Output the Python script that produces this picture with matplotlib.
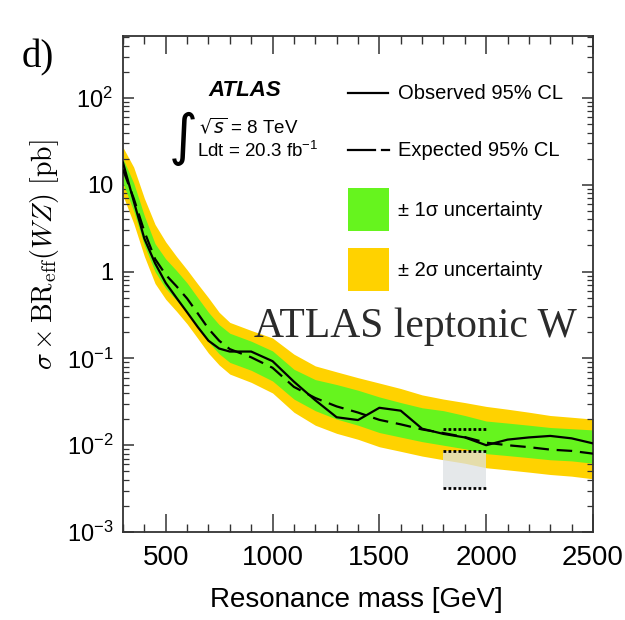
import numpy as np
import matplotlib.pyplot as plt
import matplotlib.ticker as mticker
from matplotlib.patches import Rectangle

# ------------------------------------------------------------------------------------------
# values (resonance mass in GeV, cross section limits in pb)
mass = [300, 350, 400, 450, 500, 550, 600, 650, 700, 750, 800, 900, 1000, 1100, 1200, 1300,
        1400, 1500, 1600, 1700, 1800, 1900, 2000, 2100, 2200, 2300, 2400, 2500]

observed = [18, 6.5, 2.4, 1.25, 0.74, 0.50, 0.34, 0.23, 0.16, 0.13, 0.12, 0.12, 0.093,
            0.054, 0.033, 0.021, 0.0195, 0.027, 0.025, 0.0155, 0.0135, 0.0123, 0.0100,
            0.0116, 0.0123, 0.0128, 0.0120, 0.0105]

expected = [15, 7.0, 2.9, 1.4, 0.92, 0.68, 0.49, 0.33, 0.22, 0.16, 0.128, 0.103, 0.078,
            0.047, 0.035, 0.028, 0.0238, 0.0196, 0.0174, 0.0152, 0.0138, 0.0124, 0.0107,
            0.0100, 0.0095, 0.0089, 0.0086, 0.0080]

exp_plus2 = [27, 16, 7.0, 3.5, 2.2, 1.5, 1.05, 0.72, 0.50, 0.34, 0.26, 0.21, 0.172, 0.112,
             0.082, 0.07, 0.06, 0.052, 0.045, 0.038, 0.034, 0.031, 0.028, 0.026, 0.024,
             0.022, 0.021, 0.020]

exp_plus1 = [20, 10.5, 4.4, 2.1, 1.4, 1.03, 0.74, 0.50, 0.34, 0.245, 0.195, 0.158, 0.122,
             0.075, 0.057, 0.05, 0.043, 0.036, 0.031, 0.027, 0.025, 0.022, 0.019, 0.018,
             0.017, 0.016, 0.0155, 0.015]

exp_minus1 = [10.5, 5.0, 2.0, 1.0, 0.64, 0.47, 0.34, 0.23, 0.155, 0.113, 0.090, 0.073,
              0.055, 0.034, 0.025, 0.020, 0.0170, 0.0140, 0.0124, 0.0110, 0.0100, 0.0091,
              0.0080, 0.0076, 0.0072, 0.0068, 0.0066, 0.0062]

exp_minus2 = [7.5, 3.6, 1.5, 0.73, 0.48, 0.35, 0.25, 0.17, 0.115, 0.084, 0.066, 0.053,
              0.040, 0.024, 0.017, 0.0137, 0.0117, 0.0096, 0.0085, 0.0075, 0.0068, 0.0062,
              0.0055, 0.0052, 0.0049, 0.0046, 0.0044, 0.0041]

# grey box between 1800 and 2000 GeV with its three dotted levels
box_mass = [1800, 2000]
box_top = 0.0152
box_mid = 0.0086
box_bot = 0.0032

x_ticks = [500, 1000, 1500, 2000, 2500]
y_ticks = [1e-3, 1e-2, 1e-1, 1, 10, 1e2]
y_tick_labels = [r'$\mathregular{10^{-3}}$', r'$\mathregular{10^{-2}}$', r'$\mathregular{10^{-1}}$',
                 '1', '10', r'$\mathregular{10^{2}}$']

# ------------------------------------------------------------------------------------------
plt.rcParams['font.family'] = ['Liberation Sans', 'DejaVu Sans']

col_yellow = '#ffd200'
col_green = '#66f41e'

fig = plt.figure(figsize=(6.25, 6.2), dpi=100)
ax = fig.add_axes([0.1968, 0.1419, 0.752, 0.800])

ax.fill_between(mass, exp_minus2, exp_plus2, color=col_yellow, lw=0, zorder=1)
ax.fill_between(mass, exp_minus1, exp_plus1, color=col_green, lw=0, zorder=2)

ax.fill_between(box_mass, [box_bot] * 2, [box_mid] * 2, color='#dde1e4', alpha=0.75, lw=0, zorder=3)
for lev in [box_top, box_mid, box_bot]:
    ax.plot(box_mass, [lev] * 2, color='k', lw=2.0, ls=(0, (1.0, 0.8)), zorder=4)

ax.plot(mass, expected, color='k', lw=1.6, dashes=(7, 3.5), zorder=5)
ax.plot(mass, observed, color='k', lw=1.6, zorder=6)

ax.set_yscale('log')
ax.set_xlim(300, 2500)
ax.set_ylim(1e-3, 518)

ax.set_xticks(x_ticks)
ax.set_xticklabels([str(v) for v in x_ticks])
ax.xaxis.set_minor_locator(mticker.MultipleLocator(100))
ax.set_yticks(y_ticks)
ax.set_yticklabels(y_tick_labels)
ax.yaxis.set_minor_locator(mticker.LogLocator(base=10, subs=np.arange(2, 10), numticks=20))
ax.yaxis.set_minor_formatter(mticker.NullFormatter())

ax.tick_params(which='both', direction='in', top=True, right=True, color='#333333')
ax.tick_params(axis='x', which='major', length=13, width=1.1, labelsize=20, pad=9)
ax.tick_params(axis='x', which='minor', length=6, width=1.0)
ax.tick_params(axis='y', which='major', length=8, width=1.1, labelsize=17, pad=7)
ax.tick_params(axis='y', which='minor', length=4, width=0.9)
for sp in ax.spines.values():
    sp.set_color('#333333')
    sp.set_linewidth(1.3)

# ------------------------------------------------------------------------------------------
# legend and labels drawn by hand in axes fraction
tr = ax.transAxes
ax.text(0.26, 0.891, 'ATLAS', transform=tr, ha='center', va='center',
        fontsize=16, fontweight='bold', fontstyle='italic')
ax.text(0.128, 0.793, '\u222b', transform=tr, ha='center', va='center', fontsize=40,
        family=['DejaVu Sans'])
ax.text(0.162, 0.817, r'$\sqrt{s}$ = 8 TeV', transform=tr, ha='left', va='center',
        fontsize=13.5, math_fontfamily='dejavusans')
ax.text(0.157, 0.770, r'Ldt = 20.3 fb$^{\mathregular{-1}}$', transform=tr, ha='left', va='center',
        fontsize=13.5)

ax.plot([0.479, 0.564], [0.885, 0.885], transform=tr, color='k', lw=1.6, clip_on=False)
ax.text(0.585, 0.885, 'Observed 95% CL', transform=tr, ha='left', va='center', fontsize=14.5)
ax.plot([0.479, 0.537], [0.770, 0.770], transform=tr, color='k', lw=1.6, clip_on=False)
ax.plot([0.551, 0.566], [0.770, 0.770], transform=tr, color='k', lw=1.6, clip_on=False)
ax.text(0.585, 0.770, 'Expected 95% CL', transform=tr, ha='left', va='center', fontsize=14.5)

ax.add_patch(Rectangle((0.479, 0.607), 0.087, 0.0865, transform=tr, color=col_green, lw=0))
ax.text(0.585, 0.649, '\u00b1 1\u03c3 uncertainty', transform=tr, ha='left', va='center', fontsize=14.5)
ax.add_patch(Rectangle((0.479, 0.486), 0.087, 0.0866, transform=tr, color=col_yellow, lw=0))
ax.text(0.585, 0.528, '\u00b1 2\u03c3 uncertainty', transform=tr, ha='left', va='center', fontsize=14.5)

ax.text(0.622, 0.414, 'ATLAS leptonic W', transform=tr, ha='center', va='center',
        fontsize=30, family=['Liberation Serif'], color='#2b2b2b', zorder=7)

fig.text(0.035, 0.906, 'd)', ha='left', va='center', fontsize=28, family=['Liberation Serif'])
fig.text(0.072, 0.589, r'$\sigma \times \mathrm{BR_{eff}}(WZ)\ [\mathrm{pb}]$', rotation=90,
         ha='center', va='center', fontsize=20, math_fontfamily='cm')
fig.text(0.571, 0.032, 'Resonance mass [GeV]', ha='center', va='center', fontsize=20)

fig.savefig('out.png', dpi=100)
